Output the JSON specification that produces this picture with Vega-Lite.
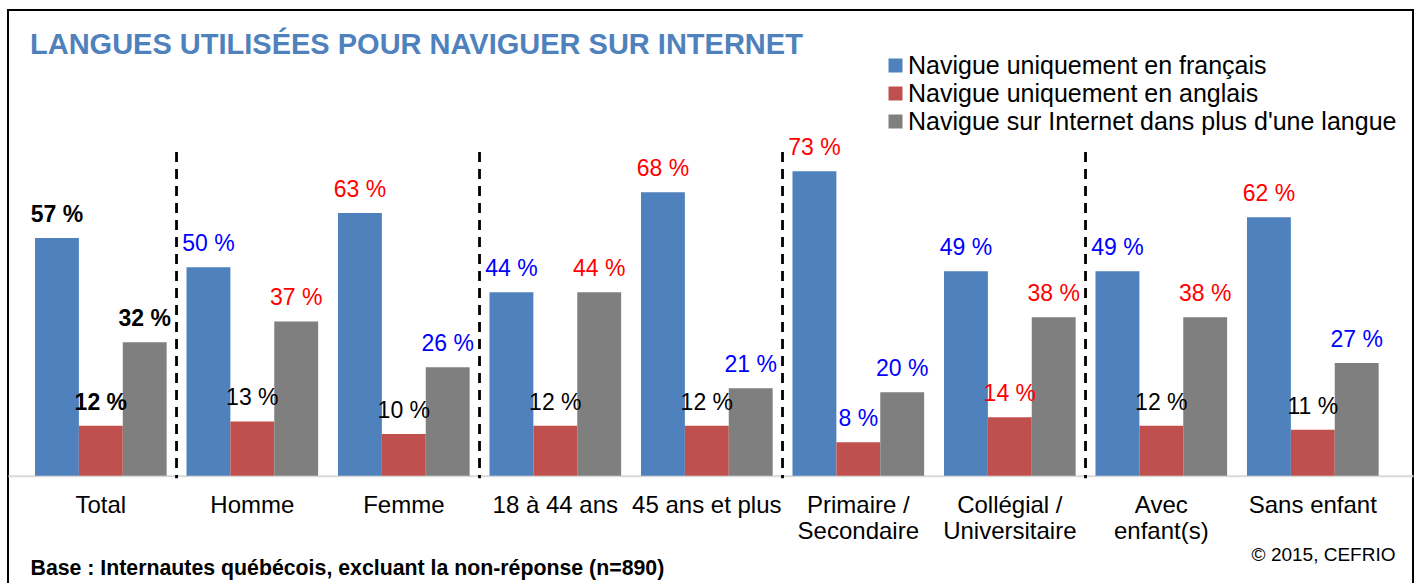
{
  "$schema": "https://vega.github.io/schema/vega-lite/v6.json",
  "width": 1405,
  "height": 590,
  "autosize": {"type": "none"},
  "padding": {"left": 8, "top": 10, "right": 5, "bottom": 0},
  "background": "white",
  "config": {
    "font": "Liberation Sans",
    "view": {"stroke": "black", "strokeWidth": 2}
  },
  "title": {
    "text": "LANGUES UTILISÉES POUR NAVIGUER SUR INTERNET",
    "anchor": "start",
    "frame": "group",
    "fontSize": 29,
    "fontWeight": "bold",
    "color": "#4F81BD",
    "baseline": "top",
    "offset": 0,
    "dx": 22,
    "dy": 50
  },
  "datasets": {
    "bars": [
      {"groupe": "Total", "langue": "Navigue uniquement en français", "pct": 57, "sig": "total"},
      {"groupe": "Total", "langue": "Navigue uniquement en anglais", "pct": 12, "sig": "total"},
      {"groupe": "Total", "langue": "Navigue sur Internet dans plus d'une langue", "pct": 32, "sig": "total"},
      {"groupe": "Homme", "langue": "Navigue uniquement en français", "pct": 50, "sig": "inf"},
      {"groupe": "Homme", "langue": "Navigue uniquement en anglais", "pct": 13, "sig": "ns"},
      {"groupe": "Homme", "langue": "Navigue sur Internet dans plus d'une langue", "pct": 37, "sig": "sup"},
      {"groupe": "Femme", "langue": "Navigue uniquement en français", "pct": 63, "sig": "sup"},
      {"groupe": "Femme", "langue": "Navigue uniquement en anglais", "pct": 10, "sig": "ns"},
      {"groupe": "Femme", "langue": "Navigue sur Internet dans plus d'une langue", "pct": 26, "sig": "inf"},
      {"groupe": "18 à 44 ans", "langue": "Navigue uniquement en français", "pct": 44, "sig": "inf"},
      {"groupe": "18 à 44 ans", "langue": "Navigue uniquement en anglais", "pct": 12, "sig": "ns"},
      {"groupe": "18 à 44 ans", "langue": "Navigue sur Internet dans plus d'une langue", "pct": 44, "sig": "sup"},
      {"groupe": "45 ans et plus", "langue": "Navigue uniquement en français", "pct": 68, "sig": "sup"},
      {"groupe": "45 ans et plus", "langue": "Navigue uniquement en anglais", "pct": 12, "sig": "ns"},
      {"groupe": "45 ans et plus", "langue": "Navigue sur Internet dans plus d'une langue", "pct": 21, "sig": "inf"},
      {"groupe": "Primaire /\nSecondaire", "langue": "Navigue uniquement en français", "pct": 73, "sig": "sup"},
      {"groupe": "Primaire /\nSecondaire", "langue": "Navigue uniquement en anglais", "pct": 8, "sig": "inf"},
      {"groupe": "Primaire /\nSecondaire", "langue": "Navigue sur Internet dans plus d'une langue", "pct": 20, "sig": "inf"},
      {"groupe": "Collégial /\nUniversitaire", "langue": "Navigue uniquement en français", "pct": 49, "sig": "inf"},
      {"groupe": "Collégial /\nUniversitaire", "langue": "Navigue uniquement en anglais", "pct": 14, "sig": "sup"},
      {"groupe": "Collégial /\nUniversitaire", "langue": "Navigue sur Internet dans plus d'une langue", "pct": 38, "sig": "sup"},
      {"groupe": "Avec\nenfant(s)", "langue": "Navigue uniquement en français", "pct": 49, "sig": "inf"},
      {"groupe": "Avec\nenfant(s)", "langue": "Navigue uniquement en anglais", "pct": 12, "sig": "ns"},
      {"groupe": "Avec\nenfant(s)", "langue": "Navigue sur Internet dans plus d'une langue", "pct": 38, "sig": "sup"},
      {"groupe": "Sans enfant", "langue": "Navigue uniquement en français", "pct": 62, "sig": "sup"},
      {"groupe": "Sans enfant", "langue": "Navigue uniquement en anglais", "pct": 11, "sig": "ns"},
      {"groupe": "Sans enfant", "langue": "Navigue sur Internet dans plus d'une langue", "pct": 27, "sig": "inf"}
    ],
    "seps": [
      {"groupe": "Total"},
      {"groupe": "Femme"},
      {"groupe": "45 ans et plus"},
      {"groupe": "Collégial /\nUniversitaire"}
    ]
  },
  "encoding": {
    "x": {
      "field": "groupe",
      "type": "nominal",
      "title": "Base : Internautes québécois, excluant la non-réponse (n=890)",
      "scale": {
        "domain": ["Total", "Homme", "Femme", "18 à 44 ans", "45 ans et plus", "Primaire /\nSecondaire", "Collégial /\nUniversitaire", "Avec\nenfant(s)", "Sans enfant"],
        "paddingInner": 0.131,
        "paddingOuter": 0.2025,
        "align": 0.44
      },
      "axis": {
        "orient": "bottom",
        "offset": -124.3,
        "labelAngle": 0,
        "labelFontSize": 24,
        "labelColor": "black",
        "labelPadding": 18,
        "labelExpr": "split(datum.label, '\\n')",
        "labelLineHeight": 26,
        "labelLimit": 0,
        "ticks": false,
        "tickSize": 0,
        "domainColor": "#D9D9D9",
        "domainWidth": 2,
        "titleFontSize": 21.3,
        "titleFontWeight": "bold",
        "titleColor": "black",
        "titleX": 22,
        "titleY": 98.8,
        "titleAlign": "left",
        "titleBaseline": "alphabetic",
        "titleAngle": 0
      }
    }
  },
  "layer": [
    {
      "data": {"name": "bars"},
      "mark": {"type": "bar"},
      "encoding": {
        "y": {
          "field": "pct",
          "type": "quantitative",
          "title": "© 2015, CEFRIO",
          "scale": {"domain": [-29.81, 111.68], "nice": false, "zero": false},
          "axis": {
            "labels": false,
            "ticks": false,
            "domain": false,
            "grid": false,
            "titleAngle": 0,
            "titleX": 1387,
            "titleY": 550,
            "titleAlign": "right",
            "titleBaseline": "alphabetic",
            "titleFontSize": 19,
            "titleFontWeight": "normal",
            "titleColor": "black"
          }
        },
        "xOffset": {
          "field": "langue",
          "type": "nominal",
          "scale": {"domain": ["Navigue uniquement en français", "Navigue uniquement en anglais", "Navigue sur Internet dans plus d'une langue"], "paddingInner": 0, "paddingOuter": 0}
        },
        "color": {
          "field": "langue",
          "type": "nominal",
          "scale": {
            "domain": ["Navigue uniquement en français", "Navigue uniquement en anglais", "Navigue sur Internet dans plus d'une langue"],
            "range": ["#4F81BD", "#C0504D", "#7F7F7F"]
          },
          "legend": {
            "title": null,
            "orient": "none",
            "legendX": 875,
            "legendY": 43,
            "symbolType": "square",
            "symbolSize": 196,
            "symbolStrokeWidth": 0,
            "labelFontSize": 25,
            "labelColor": "black",
            "labelLimit": 0,
            "rowPadding": 2,
            "labelOffset": 0,
            "padding": 0
          }
        }
      }
    },
    {
      "data": {"name": "seps"},
      "mark": {"type": "rule", "color": "black", "strokeWidth": 2.8, "strokeDash": [10, 7]},
      "encoding": {
        "x": {"field": "groupe", "type": "nominal", "bandPosition": 1.075, "title": "Base : Internautes québécois, excluant la non-réponse (n=890)"},
        "y": {"datum": 77.6, "type": "quantitative", "title": "© 2015, CEFRIO"},
        "y2": {"datum": -0.6}
      }
    },
    {
      "data": {"name": "bars"},
      "transform": [
        {"filter": "datum.groupe !== 'Total'"},
        {"calculate": "datum.pct + ' %'", "as": "etiquette"}
      ],
      "mark": {"type": "text", "fontSize": 23, "baseline": "alphabetic", "dy": -16, "align": "center"},
      "encoding": {
        "y": {"field": "pct", "type": "quantitative", "title": "© 2015, CEFRIO"},
        "xOffset": {"field": "langue", "type": "nominal"},
        "text": {"field": "etiquette", "type": "nominal"},
        "fill": {
          "field": "sig",
          "type": "nominal",
          "scale": {"domain": ["total", "sup", "inf", "ns"], "range": ["#000000", "#FF0000", "#0000FF", "#000000"]},
          "legend": null
        }
      }
    },
    {
      "data": {"name": "bars"},
      "transform": [
        {"filter": "datum.groupe === 'Total'"},
        {"calculate": "datum.pct + ' %'", "as": "etiquette"}
      ],
      "mark": {"type": "text", "fontSize": 23, "fontWeight": "bold", "baseline": "alphabetic", "dy": -16, "align": "center"},
      "encoding": {
        "y": {"field": "pct", "type": "quantitative", "title": "© 2015, CEFRIO"},
        "xOffset": {"field": "langue", "type": "nominal"},
        "text": {"field": "etiquette", "type": "nominal"},
        "fill": {
          "field": "sig",
          "type": "nominal",
          "scale": {"domain": ["total", "sup", "inf", "ns"], "range": ["#000000", "#FF0000", "#0000FF", "#000000"]},
          "legend": null
        }
      }
    }
  ]
}
